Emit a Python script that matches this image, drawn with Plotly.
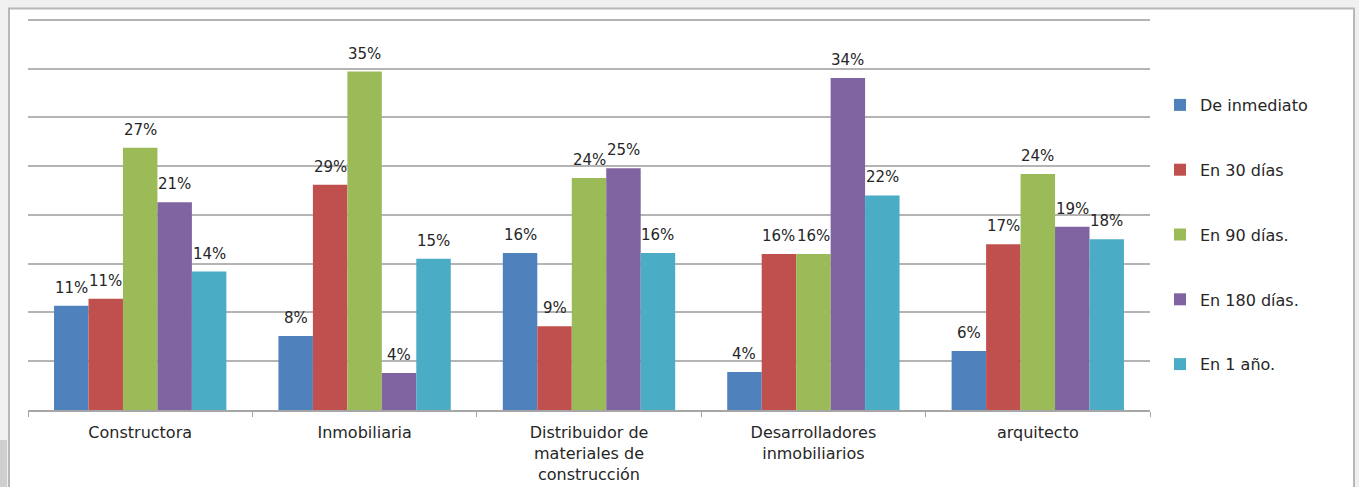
import plotly.graph_objects as go

categories = ["Constructora", "Inmobiliaria", "Distribuidor de<br>materiales de<br>construcción",
              "Desarrolladores<br>inmobiliarios", "arquitecto"]
series_names = ["De inmediato", "En 30 días", "En 90 días.", "En 180 días.", "En 1 año."]
colors = ["#4F81BD", "#C0504D", "#9BBB59", "#8064A2", "#4BACC6"]

# bar heights (percent) as drawn, one list per series
de_inmediato = [10.7, 7.6, 16.1, 3.9, 6.05]
en_30_dias = [11.4, 23.1, 8.6, 16.0, 17.0]
en_90_dias = [26.9, 34.7, 23.8, 16.0, 24.2]
en_180_dias = [21.3, 3.8, 24.8, 34.05, 18.8]
en_1_anio = [14.2, 15.5, 16.1, 22.0, 17.5]

# data labels as printed on the chart
lbl_de_inmediato = ["11%", "8%", "16%", "4%", "6%"]
lbl_en_30_dias = ["11%", "29%", "9%", "16%", "17%"]
lbl_en_90_dias = ["27%", "35%", "24%", "16%", "24%"]
lbl_en_180_dias = ["21%", "4%", "25%", "34%", "19%"]
lbl_en_1_anio = ["14%", "15%", "16%", "22%", "18%"]

y_ticks = [0, 5, 10, 15, 20, 25, 30, 35, 40]

values = [de_inmediato, en_30_dias, en_90_dias, en_180_dias, en_1_anio]
labels = [lbl_de_inmediato, lbl_en_30_dias, lbl_en_90_dias, lbl_en_180_dias, lbl_en_1_anio]

FONT = "DejaVu Sans"
bargap = 0.232
nser = len(series_names)
bw = (1 - bargap) / nser

fig = go.Figure()
annotations = []
for i, (name, col, vals, lbls) in enumerate(zip(series_names, colors, values, labels)):
    fig.add_trace(go.Bar(
        x=categories, y=vals, name=name, marker=dict(color=col, line=dict(width=0)),
        legendgroup=name, hoverinfo="skip"))
    for j, (v, t) in enumerate(zip(vals, lbls)):
        annotations.append(dict(
            x=j + (i - (nser - 1) / 2) * bw, y=v, xref="x", yref="y", text=t,
            showarrow=False, yshift=18, font=dict(family=FONT, size=15, color="#262626")))

W, H = 1359, 487
ymax = 40.3
ml, mr, mb = 28, 209, 77
mt = round(H - mb - ymax * (390 / 40))
pw, ph = W - ml - mr, H - mt - mb

def px(xp):
    return (xp - ml) / pw

def py(yp):
    return (H - mb - yp) / ph

shapes = [
    dict(type="rect", xref="paper", yref="paper", x0=px(9), x1=px(1354), y0=py(500), y1=py(8.5),
         fillcolor="white", line=dict(color="#b8b8b8", width=2), layer="below"),
    dict(type="rect", xref="paper", yref="paper", x0=px(-2), x1=px(7), y0=py(490), y1=py(440),
         fillcolor="#cfcfcf", line=dict(width=0), layer="below"),
]

fig.update_layout(
    width=W, height=H,
    margin=dict(l=ml, r=mr, t=mt, b=mb, pad=0, autoexpand=False),
    paper_bgcolor="#f0f0f0", plot_bgcolor="white",
    barmode="group", bargap=bargap, bargroupgap=0,
    showlegend=True,
    legend=dict(x=px(1160), xanchor="left", y=py(88), yanchor="top",
                font=dict(family=FONT, size=16, color="#262626"),
                tracegroupgap=41, bgcolor="rgba(0,0,0,0)", itemclick=False),
    xaxis=dict(type="category", showline=True, linecolor="#a6a6a6", linewidth=2,
               ticks="outside", tickson="boundaries", ticklen=5, tickcolor="#a6a6a6",
               tickwidth=1, ticklabelstandoff=7, automargin=False,
               tickfont=dict(family=FONT, size=16, color="#262626"), showgrid=False),
    yaxis=dict(range=[0, ymax], tickvals=y_ticks,
               showticklabels=False, showgrid=True, automargin=False,
               gridcolor="#b4b4b4", gridwidth=1.5, zeroline=False, showline=False, ticks=""),
    annotations=annotations, shapes=shapes,
)

fig.write_html("out.html", config={"displayModeBar": False},
               post_script="document.body.style.margin='0';document.body.style.background='#f0f0f0';")
